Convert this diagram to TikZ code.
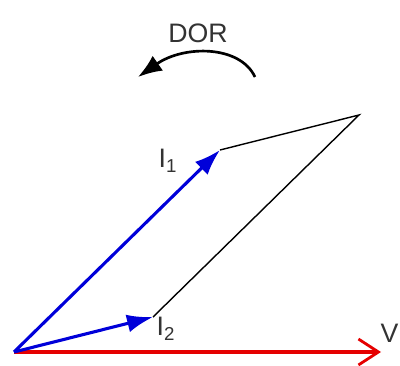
\documentclass[tikz,border=0pt]{standalone}
\usepackage{fontspec}
\setmainfont{Liberation Sans}
\usepackage{tikz}
\usetikzlibrary{arrows.meta,calc}

\begin{document}
\begin{tikzpicture}[
  phasor/.style={blue!85!black, line width=2.2pt, -{Latex[length=6.5mm,width=4.5mm]}},
  volt/.style={red!90!black, line width=2.2pt, -{Straight Barb[length=5mm,width=6.5mm,line width=2pt]}},
  side/.style={black, line width=1pt},
  lbl/.style={text=black!80, font=\fontsize{19}{21}\selectfont, inner sep=0pt}]
\useasboundingbox (0,0) rectangle (10,9.125);
% points of the diagram
\coordinate (O) at (0.35,0.325);
\coordinate (Vend) at (9.525,0.325);
\coordinate (I1) at (5.5,5.375);
\coordinate (I2) at (3.825,1.2);
\coordinate (S) at ($(I1)+(I2)-(O)$);
% parallelogram sides
\draw[side] (I1) -- (S) -- (I2);
% phasors
\draw[volt] (O) -- (Vend);
\draw[phasor] (O) -- (I1);
\draw[phasor] (O) -- (I2);
% labels
\node[lbl] (lI1) at (4.2,5.1) {I\textsubscript{1}};
\node[lbl] (lI2) at (4.15,0.9) {I\textsubscript{2}};
\node[lbl, anchor=east] (lV) at (9.97,0.78) {V};
\node[lbl] (dor) at (4.95,8.3) {DOR};
% direction of rotation
\coordinate (r0) at (6.375,7.2);
\coordinate (r1) at (3.45,7.2);
\draw[line width=1.9pt, -{Latex[length=6mm,width=4.5mm]}] (r0) .. controls (6,8.0) and (4.6,8.0) .. (r1);
\end{tikzpicture}
\end{document}
